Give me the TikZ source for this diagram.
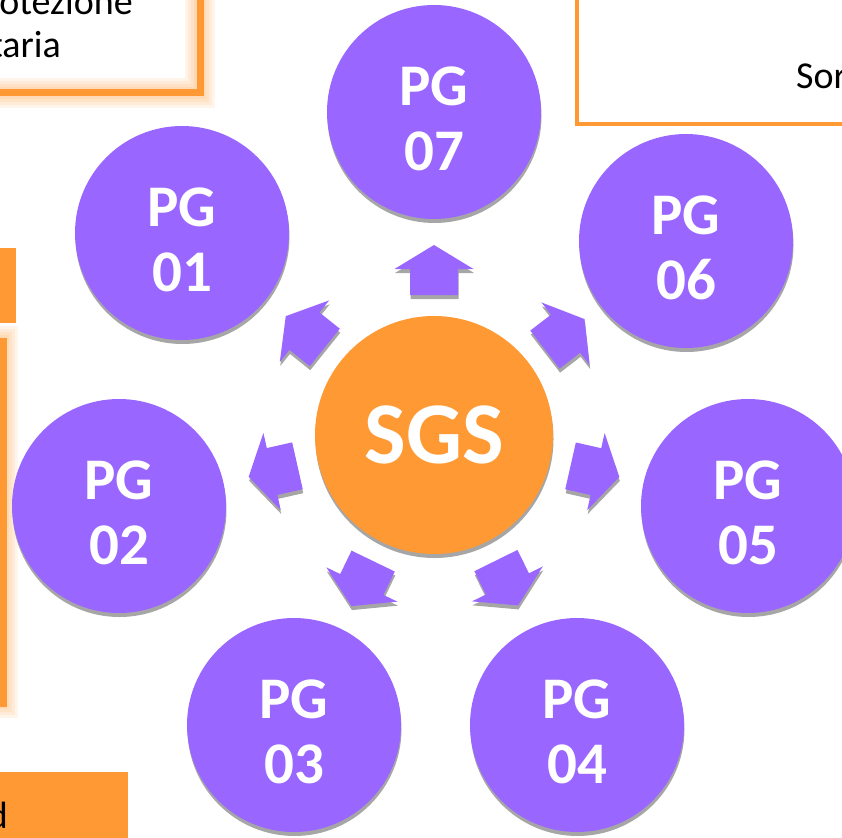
\documentclass[tikz,border=0pt]{standalone}
\usepackage{fontspec}
\setmainfont{Carlito}
\usetikzlibrary{shadows}

\definecolor{pgpurple}{HTML}{9966FF}
\definecolor{sgsorange}{HTML}{FF9933}
\definecolor{shadowgray}{HTML}{A6A6A6}

\tikzset{
    pgcircle/.style={circle, fill=pgpurple, minimum size=214pt, inner sep=0pt, text=white,
        align=center, font=\fontsize{59}{65}\selectfont\bfseries, text height=118pt,
        drop shadow={shadow xshift=0.5pt, shadow yshift=-4pt, fill=shadowgray, opacity=1}},
    sgscircle/.style={circle, fill=sgsorange, minimum size=238pt, inner sep=0pt, text=white,
        font=\fontsize{88}{90}\selectfont\bfseries,
        drop shadow={shadow xshift=0.5pt, shadow yshift=-4pt, fill=shadowgray, opacity=1}},
    sidetext/.style={font=\fontsize{38}{45}\selectfont, inner sep=0pt},
    framebox/.style={fill=white},
    frameline/.style={draw=sgsorange, line width=7pt},
    glowline/.style={draw=sgsorange, line width=#1, opacity=0.1},
    orangebar/.style={fill=sgsorange}
}

\begin{document}
\begin{tikzpicture}[x=1pt, y=-1pt]
    \useasboundingbox (0,0) rectangle (842,837);
    \clip (0,0) rectangle (842,837);

    % boxes round the edges
    \fill[framebox] (-60,-60) rectangle (200,93);
    \foreach \w in {12,18,24,30}{
        \draw[glowline=\w pt] (-60,-60) rectangle (200,93);
    }
    \draw[frameline] (-60,-60) rectangle (200,93);
    \node[sidetext, anchor=base east] (protezione) at (133,15) {rotezione};
    \node[sidetext, anchor=base east] (taria) at (61,58) {taria};

    \draw[fill=white, draw=sgsorange, line width=4pt] (577,-60) rectangle (900,124);
    \node[sidetext, anchor=base west] (sor) at (796,89) {Sor};

    \fill[orangebar] (-10,248) rectangle (16,323);

    \fill[framebox] (-80,341) rectangle (3,703);
    \foreach \w in {12,18,24,30}{
        \draw[glowline=\w pt] (-80,341) rectangle (3,703);
    }
    \draw[frameline] (-80,341) rectangle (3,703);

    \fill[orangebar] (-10,772) rectangle (128,850);
    \node[sidetext, anchor=base east] (dtail) at (8,828) {d};

    % centre and processes
    \node[sgscircle] (sgs) at (434,435) {SGS};

    \node[pgcircle] (pg07) at (434,112) {PG\\07};
    \node[pgcircle] (pg01) at (182,233) {PG\\01};
    \node[pgcircle] (pg06) at (686,241) {PG\\06};
    \node[pgcircle] (pg02) at (119,506) {PG\\02};
    \node[pgcircle] (pg05) at (748,506) {PG\\05};
    \node[pgcircle] (pg03) at (294,725) {PG\\03};
    \node[pgcircle] (pg04) at (577,725) {PG\\04};

    % block arrows from SGS to each PG
    \foreach \pg in {pg01,pg02,pg03,pg04,pg05,pg06,pg07}{
        \pgfmathanglebetweenpoints{\pgfpointanchor{sgs}{center}}{\pgfpointanchor{\pg}{center}}
        \let\ang\pgfmathresult
        \fill[shadowgray, shift={(sgs.center)}, xshift=0.5pt, yshift=-4pt, rotate=\ang]
            (140,-24) -- (166,-24) -- (166,-39.5) -- (190,0) -- (166,39.5) -- (166,24) -- (140,24) -- cycle;
        \fill[pgpurple, shift={(sgs.center)}, rotate=\ang]
            (140,-24) -- (166,-24) -- (166,-39.5) -- (190,0) -- (166,39.5) -- (166,24) -- (140,24) -- cycle;
    }
\end{tikzpicture}
\end{document}
